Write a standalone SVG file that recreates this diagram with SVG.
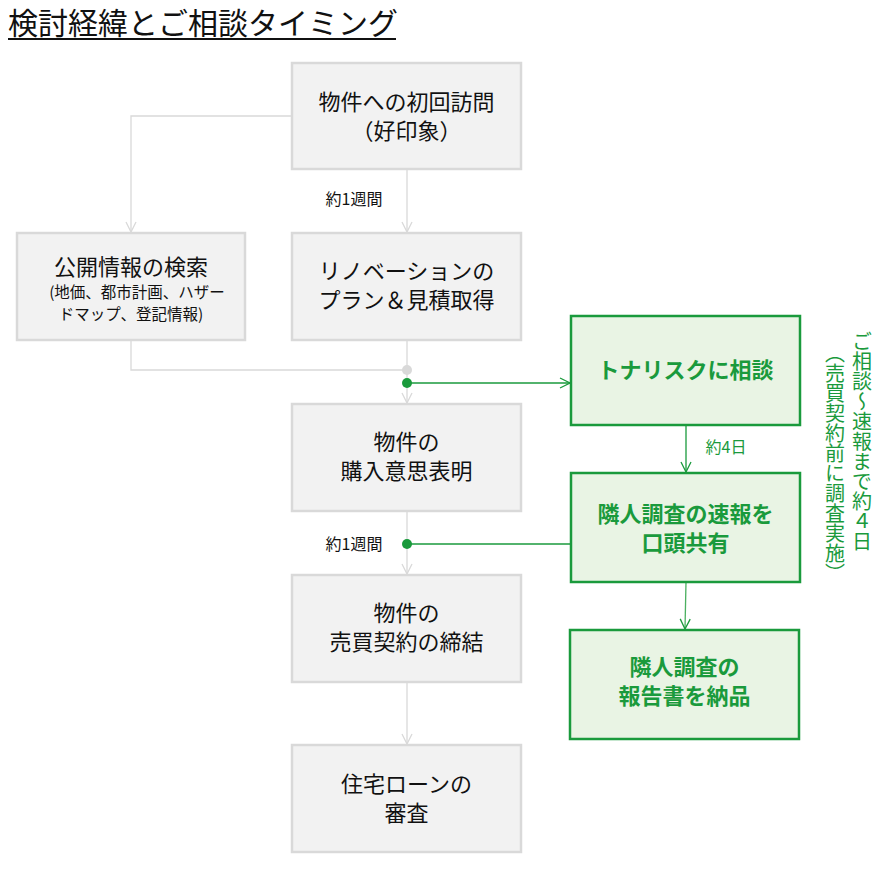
<svg xmlns="http://www.w3.org/2000/svg" width="889" height="881" viewBox="0 0 889 881">
<defs>
<style>
text{font-family:"Noto Sans CJK JP","Noto Sans",sans-serif;}
.t{font-size:22px;fill:#111;text-anchor:middle;}
.s{font-size:15.5px;fill:#111;text-anchor:middle;}
.l{font-size:16px;fill:#111;text-anchor:middle;}
.gl{font-size:16px;fill:#1a9a3c;text-anchor:middle;}
.gt{font-size:22px;font-weight:bold;fill:#1a9a3c;text-anchor:middle;}
.v{font-size:20px;fill:#1a9a3c;writing-mode:vertical-rl;}
.box{fill:#f2f2f2;stroke:#d9d9d9;stroke-width:2.5;}
.gbox{fill:#e9f4e4;stroke:#1a9a3c;stroke-width:2.5;}
.c{fill:none;stroke:#d9d9d9;stroke-width:1.3;}
.gc{fill:none;stroke:#1a9a3c;stroke-width:1.3;}
</style>
<marker id="ag" viewBox="0 0 12 12" markerWidth="12" markerHeight="12" refX="11" refY="6" orient="auto" markerUnits="userSpaceOnUse">
<path d="M1,1 L11,6 L1,11" fill="none" stroke="#d9d9d9" stroke-width="1.3"/>
</marker>
<marker id="agr" viewBox="0 0 12 12" markerWidth="12" markerHeight="12" refX="11" refY="6" orient="auto" markerUnits="userSpaceOnUse">
<path d="M1,1 L11,6 L1,11" fill="none" stroke="#1a9a3c" stroke-width="1.3"/>
</marker>
</defs>

<g id="title">
<text x="8" y="34" style="font-size:30px;fill:#111;">検討経緯とご相談タイミング</text>
<line x1="8" y1="39" x2="396" y2="39" stroke="#111" stroke-width="2"/>
</g>

<g id="connectors">
<polyline class="c" points="292,116 131,116 131,232" marker-end="url(#ag)"/>
<line class="c" x1="407" y1="169" x2="407" y2="232" marker-end="url(#ag)"/>
<polyline class="c" points="131,340 131,370 407,370"/>
<line class="c" x1="407" y1="340" x2="407" y2="403" marker-end="url(#ag)"/>
<line class="c" x1="407" y1="511" x2="407" y2="574" marker-end="url(#ag)"/>
<line class="c" x1="407" y1="682" x2="407" y2="744" marker-end="url(#ag)"/>
<circle cx="407" cy="370" r="5" fill="#d9d9d9"/>
<line class="gc" x1="407" y1="383" x2="570" y2="383" marker-end="url(#agr)"/>
<circle cx="407" cy="383" r="5" fill="#1a9a3c"/>
<line class="gc" x1="407" y1="544" x2="570" y2="544"/>
<circle cx="407" cy="544" r="5" fill="#1a9a3c"/>
<line class="gc" x1="686" y1="425" x2="686" y2="472" marker-end="url(#agr)"/>
<line class="gc" x1="686" y1="582" x2="685" y2="629" marker-end="url(#agr)" style="stroke:#4bb060"/>
<text class="l" x="354" y="205">約1週間</text>
<text class="l" x="354" y="550">約1週間</text>
<text class="gl" x="726" y="453">約4日</text>
</g>

<g id="n1">
<rect class="box" x="292" y="63" width="229" height="106"/>
<text class="t"><tspan x="406.5" y="110">物件への初回訪問</tspan><tspan x="406.5" y="139">（好印象）</tspan></text>
</g>
<g id="n2">
<rect class="box" x="17" y="233" width="228" height="107"/>
<text class="t" x="131" y="275">公開情報の検索</text>
<text class="s"><tspan x="137" y="298">(地価、都市計画、ハザー</tspan><tspan x="131" y="320">ドマップ、登記情報)</tspan></text>
</g>
<g id="n3">
<rect class="box" x="292" y="233" width="229" height="107"/>
<text class="t"><tspan x="406.5" y="279">リノベーションの</tspan><tspan x="406.5" y="308">プラン＆見積取得</tspan></text>
</g>
<g id="n4">
<rect class="box" x="292" y="404" width="229" height="107"/>
<text class="t"><tspan x="406.5" y="450">物件の</tspan><tspan x="406.5" y="479">購入意思表明</tspan></text>
</g>
<g id="n5">
<rect class="box" x="292" y="575" width="229" height="107"/>
<text class="t"><tspan x="406.5" y="621">物件の</tspan><tspan x="406.5" y="650">売買契約の締結</tspan></text>
</g>
<g id="n6">
<rect class="box" x="292" y="745" width="229" height="107"/>
<text class="t"><tspan x="406.5" y="792">住宅ローンの</tspan><tspan x="406.5" y="821">審査</tspan></text>
</g>
<g id="g1">
<rect class="gbox" x="571" y="316" width="229" height="109"/>
<text class="gt" x="685.5" y="378">トナリスクに相談</text>
</g>
<g id="g2">
<rect class="gbox" x="571" y="473" width="229" height="109"/>
<text class="gt"><tspan x="685.5" y="522">隣人調査の速報を</tspan><tspan x="685.5" y="551">口頭共有</tspan></text>
</g>
<g id="g3">
<rect class="gbox" x="570" y="630" width="229" height="109"/>
<text class="gt"><tspan x="684.5" y="675">隣人調査の</tspan><tspan x="684.5" y="704">報告書を納品</tspan></text>
</g>
<g id="side">
<text class="v" x="862" y="331">ご相談～速報まで約４日</text>
<text class="v" x="835" y="343">（売買契約前に調査実施）</text>
</g>
</svg>
